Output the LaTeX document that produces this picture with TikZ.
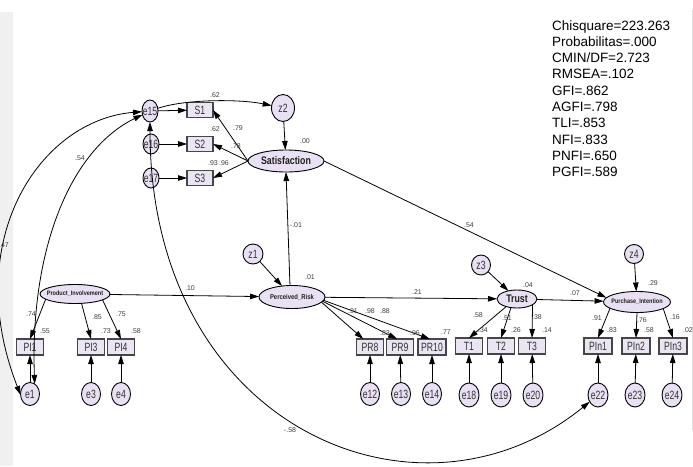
\documentclass[tikz,border=0pt]{standalone}
\usepackage{graphicx}
\usepackage{fontspec}
\setmainfont{Liberation Sans}
\usetikzlibrary{shapes.geometric,arrows.meta}
\definecolor{latfill}{RGB}{233,225,243}
\definecolor{boxfill}{RGB}{235,228,242}
\definecolor{boxline}{RGB}{70,70,70}
\definecolor{stripgray}{RGB}{240,240,240}
\newcommand\nx[1]{\scalebox{0.72}[1]{#1}}
\newcommand\ez[1]{\makebox[0pt]{\scalebox{0.72}[1]{#1}}}
\newcommand\cz[2]{\makebox[0pt]{\scalebox{#1}[1]{#2}}}
\begin{document}
\begin{tikzpicture}[x=1pt,y=-1pt,
  every node/.style={inner sep=0pt, outer sep=0pt},
  lat/.style={ellipse, draw=black, line width=0.9pt, fill=latfill, text=black!88},
  err/.style={ellipse, draw=black, line width=0.9pt, fill=latfill, minimum width=19pt, minimum height=23pt, font=\fontsize{12}{12}\selectfont, text=black!80},
  obs/.style={rectangle, draw=boxline, line width=1.3pt, fill=boxfill, minimum width=27pt, minimum height=16pt, font=\fontsize{12}{12}\selectfont, text=black!80},
  lbl/.style={font=\fontsize{7}{7}\selectfont, text=black!75},
  stat/.style={anchor=base west, font=\fontsize{13.5}{16}\selectfont},
  reg/.style={draw=black, line width=0.8pt, -{Triangle[length=9pt,width=5.5pt]}},
  cov/.style={draw=black, line width=0.8pt, {Triangle[length=9pt,width=5.5pt]}-{Triangle[length=9pt,width=5.5pt]}},
]
\fill[white] (0,0) rectangle (693,466);
\useasboundingbox (0,0) rectangle (693,466);
\fill[stripgray] (0,12) rectangle (13,466);
\draw[black!12, line width=0.8pt] (692,10) -- (692,430);

% fit statistics
\foreach \s [count=\i] in {Chisquare=223.263, Probabilitas=.000, CMIN/DF=2.723, RMSEA=.102, GFI=.862, AGFI=.798, TLI=.853, NFI=.833, PNFI=.650, PGFI=.589}
  \node[stat] (st\i) at (552,{30+16.33*(\i-1)}) {\s};

% Satisfaction block
\node[err, minimum width=16pt, minimum height=22pt] (e15) at (150,111) {\ez{e15}};
\node[err, minimum width=16pt, minimum height=20pt] (e16) at (151,144) {\ez{e16}};
\node[err, minimum width=16pt, minimum height=20pt] (e17) at (151,178) {\ez{e17}};
\node[obs, minimum width=26pt, minimum height=15pt] (S1) at (200,110) {\nx{S1}};
\node[obs, minimum width=26pt, minimum height=15pt] (S2) at (200,144) {\nx{S2}};
\node[obs, minimum width=26pt, minimum height=15pt] (S3) at (200,178) {\nx{S3}};
\node[err, minimum width=23pt, minimum height=27pt] (z2) at (283,108) {\ez{z2}};
\node[lat, minimum width=76pt, minimum height=22pt, font=\bfseries\fontsize{11}{11}\selectfont] (Sat) at (286,161) {\cz{0.8}{Satisfaction}};

% latent row
\node[lat, minimum width=70pt, minimum height=19pt, font=\bfseries\fontsize{6.5}{6.5}\selectfont] (PI) at (75,294) {\cz{0.85}{Product\_Involvement}};
\node[lat, minimum width=66pt, minimum height=23pt, font=\bfseries\fontsize{7}{7}\selectfont] (PR) at (292,297) {\cz{0.85}{Perceived\_Risk}};
\node[lat, minimum width=40pt, minimum height=18pt, font=\bfseries\fontsize{11}{11}\selectfont] (Trust) at (517,299) {\cz{0.8}{Trust}};
\node[lat, minimum width=67pt, minimum height=21pt, font=\bfseries\fontsize{6.5}{6.5}\selectfont] (PUI) at (637,302) {\cz{0.85}{Purchase\_Intention}};
\node[err, minimum width=20pt, minimum height=20pt] (z1) at (253,254) {\ez{z1}};
\node[err, minimum width=19pt, minimum height=20pt] (z3) at (481,265) {\ez{z3}};
\node[err, minimum width=19pt, minimum height=19pt] (z4) at (634,254) {\ez{z4}};

% indicators
\node[obs] (PI1) at (30,347) {\nx{PI1}};
\node[obs] (PI3) at (91,347) {\nx{PI3}};
\node[obs] (PI4) at (121,347) {\nx{PI4}};
\node[obs] (PR8) at (370,347) {\nx{PR8}};
\node[obs] (PR9) at (400,347) {\nx{PR9}};
\node[obs, minimum width=28pt] (PR10) at (432,347) {\nx{PR10}};
\node[obs] (T1) at (469,346) {\nx{T1}};
\node[obs] (T2) at (501,346) {\nx{T2}};
\node[obs] (T3) at (532,346) {\nx{T3}};
\node[obs, minimum width=28pt] (PIn1) at (598,346) {\nx{PIn1}};
\node[obs, minimum width=28pt] (PIn2) at (636,346) {\nx{PIn2}};
\node[obs, minimum width=28pt] (PIn3) at (673,346) {\nx{PIn3}};

% error terms
\node[err] (e1) at (30,394) {\ez{e1}};
\node[err] (e3) at (91,394) {\ez{e3}};
\node[err] (e4) at (121,394) {\ez{e4}};
\node[err] (e12) at (370,394) {\ez{e12}};
\node[err] (e13) at (401,394) {\ez{e13}};
\node[err] (e14) at (432,394) {\ez{e14}};
\node[err, minimum width=20pt, minimum height=24pt] (e18) at (469,395) {\ez{e18}};
\node[err, minimum width=20pt, minimum height=24pt] (e19) at (501,395) {\ez{e19}};
\node[err, minimum width=20pt, minimum height=24pt] (e20) at (533,395) {\ez{e20}};
\node[err, minimum width=20pt, minimum height=24pt] (e22) at (598,395) {\ez{e22}};
\node[err, minimum width=20pt, minimum height=24pt] (e23) at (635,395) {\ez{e23}};
\node[err, minimum width=20pt, minimum height=24pt] (e24) at (672,395) {\ez{e24}};

% regression paths
\draw[reg] (e15) -- (S1);
\draw[reg] (e16) -- (S2);
\draw[reg] (e17) -- (S3);
\draw[reg] (Sat.west) -- (S1.east);
\draw[reg] (Sat.west) -- (S2.east);
\draw[reg] (Sat.west) -- (S3.east);
\draw[reg] (z2) -- (Sat);
\draw[reg] (PR.100) -- (Sat.south);
\draw[reg] (z1) -- (PR);
\draw[reg] (PI) -- (PR);
\draw[reg] (PR) -- (Trust);
\draw[reg] (Trust) -- (PUI);
\draw[reg] (z3) -- (Trust);
\draw[reg] (z4) -- (PUI);
\draw[reg] (Sat.east) -- (PUI.172);
\draw[reg] (PI.-170) -- (PI1.north);
\draw[reg] (PI.-55) -- (PI3.north);
\draw[reg] (PI.-12) -- (PI4.north);
\draw[reg] (PR.-10) -- (PR8.130);
\draw[reg] (PR.-8) -- (PR9.110);
\draw[reg] (PR.-6) -- (PR10.105);
\draw[reg] (Trust.-145) -- (T1.north);
\draw[reg] (Trust.-125) -- (T2.north);
\draw[reg] (Trust.-20) -- (T3.north);
\draw[reg] (PUI.-167) -- (PIn1.north);
\draw[reg] (PUI.south) -- (PIn2.north);
\draw[reg] (PUI.-14) -- (PIn3.north);
\draw[reg] (e1) -- (PI1);
\draw[reg] (e3) -- (PI3);
\draw[reg] (e4) -- (PI4);
\draw[reg] (e12) -- (PR8);
\draw[reg] (e13) -- (PR9);
\draw[reg] (e14) -- (PR10);
\draw[reg] (e18) -- (T1);
\draw[reg] (e19) -- (T2);
\draw[reg] (e20) -- (T3);
\draw[reg] (e22) -- (PIn1);
\draw[reg] (e23) -- (PIn2);
\draw[reg] (e24) -- (PIn3);

% covariances
\draw[reg] (e15) .. controls (185,99) and (240,99) .. (z2);
\draw[cov] (e15) .. controls (40,120) and (-40,240) .. (e1.185);
\draw[cov] (e15) .. controls (70,150) and (30,250) .. (e1.65);
\draw[cov] (e15) .. controls (150,430) and (420,540) .. (e22);

% coefficients
\foreach \x/\y/\t [count=\i] in {215/95/.62, 215/129/.62, 238/128/.79, 236/146/.78, 213/163/.93, 224/163/.96, 305/141/.00, 469/225/.54, 296/225/-.01, 80/158/.54, 4/245/.47, 310/277/.01, 190/288/.10, 417/292/.21, 528/285/.04, 575/293/.07, 653/283/.29, 31/314/.74, 45/331/.55, 97/317/.85, 106/331/.73, 121/314/.75, 136/331/.58, 353/311/.91, 370/311/.98, 385/311/.88, 385/333/.83, 415/333/.96, 446/332/.77, 478/315/.58, 507/318/.51, 537/317/.38, 483/330/.34, 516/330/.26, 547/330/.14, 597/318/.91, 642/320/.76, 675/317/.16, 612/330/.83, 649/330/.58, 688/330/.02, 290/430/-.58}
  \node[lbl] (lb\i) at (\x,\y) {\t};
\end{tikzpicture}
\end{document}
